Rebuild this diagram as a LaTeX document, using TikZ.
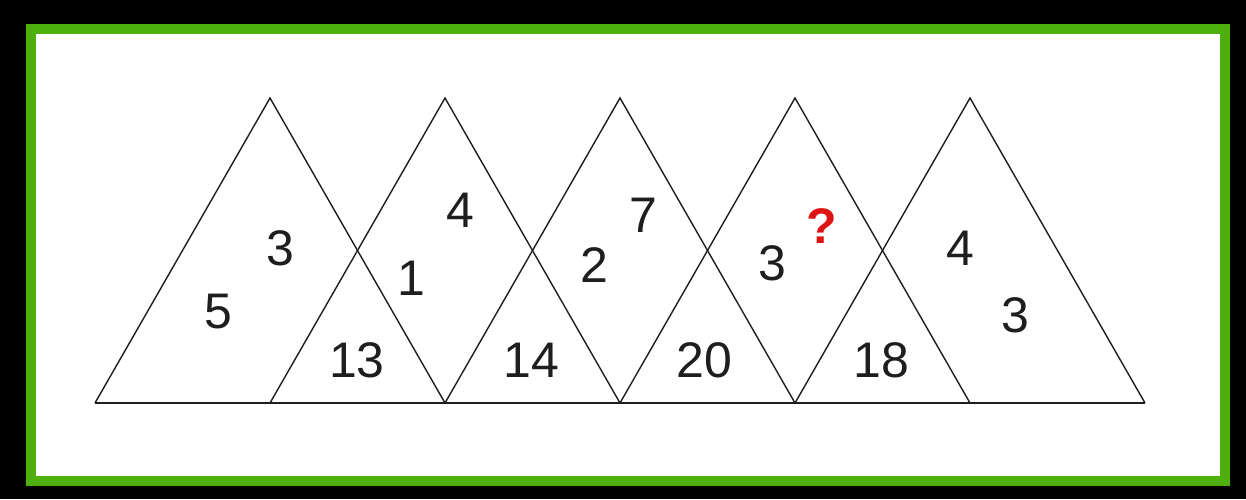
\documentclass[tikz,border=0pt]{standalone}
\usepackage{fontspec}
\setmainfont{Liberation Sans}
\definecolor{frameg}{RGB}{78,176,12}
\definecolor{qred}{RGB}{220,20,20}
\definecolor{ink}{RGB}{30,30,30}
\begin{document}
\begin{tikzpicture}[x=1pt, y=-1pt, num/.style={text=ink, font=\fontsize{50}{50}\selectfont}, tri/.style={draw=ink, line width=1.4pt}]
\fill[black](0,0) rectangle (1246,499);
\draw[line width=10pt, draw=frameg, fill=white](30.5,28.5) rectangle (1224.5,481);
\foreach \i in {0,...,4}
  \draw[tri](95+175*\i,403)--(270+175*\i,98)--(445+175*\i,403);
\draw[tri](95,403)--(1145,403);
\node[num] (t1a) at (280,248) {3};
\node[num] (t1b) at (218,312) {5};
\node[num] (t2a) at (460,210) {4};
\node[num] (t2b) at (411,278) {1};
\node[num] (b1) at (357,360) {13};
\node[num] (t3a) at (643,215) {7};
\node[num] (t3b) at (594,265) {2};
\node[num] (b2) at (531,360) {14};
\node[num] (b3) at (704,360) {20};
\node[num] (t4b) at (772,263) {3};
\node[num, text=qred, font=\fontsize{50}{50}\bfseries] (q) at (822,226) {?};
\node[num] (b4) at (881,360) {18};
\node[num] (t5a) at (960,248) {4};
\node[num] (t5b) at (1015,315) {3};
\end{tikzpicture}
\end{document}
